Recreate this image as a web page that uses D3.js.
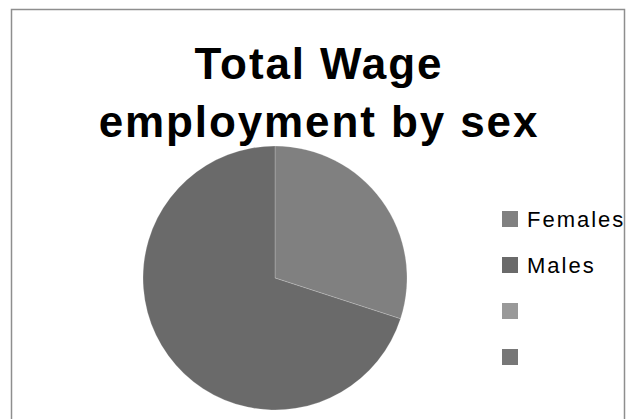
<!DOCTYPE html>
<html>
<head>
<meta charset="utf-8">
<script src="https://cdn.jsdelivr.net/npm/d3@7"></script>
<style>
  html, body { margin: 0; padding: 0; background: #fff; }
  svg { display: block; }
</style>
</head>
<body>
<svg id="chart" width="626" height="419"></svg>
<script>
// Data
const titleLines = ["Total Wage", "employment by sex"];
const categories = ["Females", "Males", "", ""];
const values = [30, 70, 0, 0];
const colors = ["#808080", "#6a6a6a", "#999999", "#777777"];

const svg = d3.select("#chart");

// Chart area border
svg.append("rect")
  .attr("x", 11.5).attr("y", 9.5)
  .attr("width", 613).attr("height", 430)
  .attr("fill", "#fff")
  .attr("stroke", "#8e8e8e")
  .attr("stroke-width", 1.5);

// Title
const title = svg.append("text")
  .attr("text-anchor", "middle")
  .attr("font-family", "'Liberation Sans', Arial, sans-serif")
  .attr("font-weight", "bold")
  .attr("font-size", 44)
  .attr("letter-spacing", "1.9px")
  .attr("fill", "#000");
const titleY = d3.scaleLinear().domain([0, 1]).range([79, 137]);
titleLines.forEach((t, i) => {
  title.append("tspan").attr("x", 319).attr("y", titleY(i)).text(t);
});

// Pie
const cx = 275, cy = 278, r = 132;
const pie = d3.pie().sort(null).value(d => d.v);
const data = categories.map((c, i) => ({ c, v: values[i], color: colors[i] }));
const arcs = pie(data).filter(d => d.data.v > 0);
const arc = d3.arc().innerRadius(0).outerRadius(r);
svg.append("g")
  .attr("transform", `translate(${cx},${cy})`)
  .selectAll("path")
  .data(arcs)
  .join("path")
  .attr("d", arc)
  .attr("fill", d => d.data.color)
  .attr("stroke", "#ffffff")
  .attr("stroke-opacity", 0.35)
  .attr("stroke-width", 0.6);

// Legend
const ly = d3.scalePoint().domain(d3.range(categories.length)).range([219, 357]);
const items = svg.append("g").selectAll("g")
  .data(data)
  .join("g")
  .attr("transform", (d, i) => `translate(502,${ly(i)})`);
items.append("rect")
  .attr("x", 0).attr("y", -8)
  .attr("width", 16).attr("height", 16)
  .attr("fill", d => d.color);
items.append("text")
  .attr("x", 25).attr("y", 8)
  .attr("font-family", "'Liberation Sans', Arial, sans-serif")
  .attr("font-size", 22)
  .attr("letter-spacing", "2px")
  .attr("fill", "#000")
  .text(d => d.c);
</script>
</body>
</html>
